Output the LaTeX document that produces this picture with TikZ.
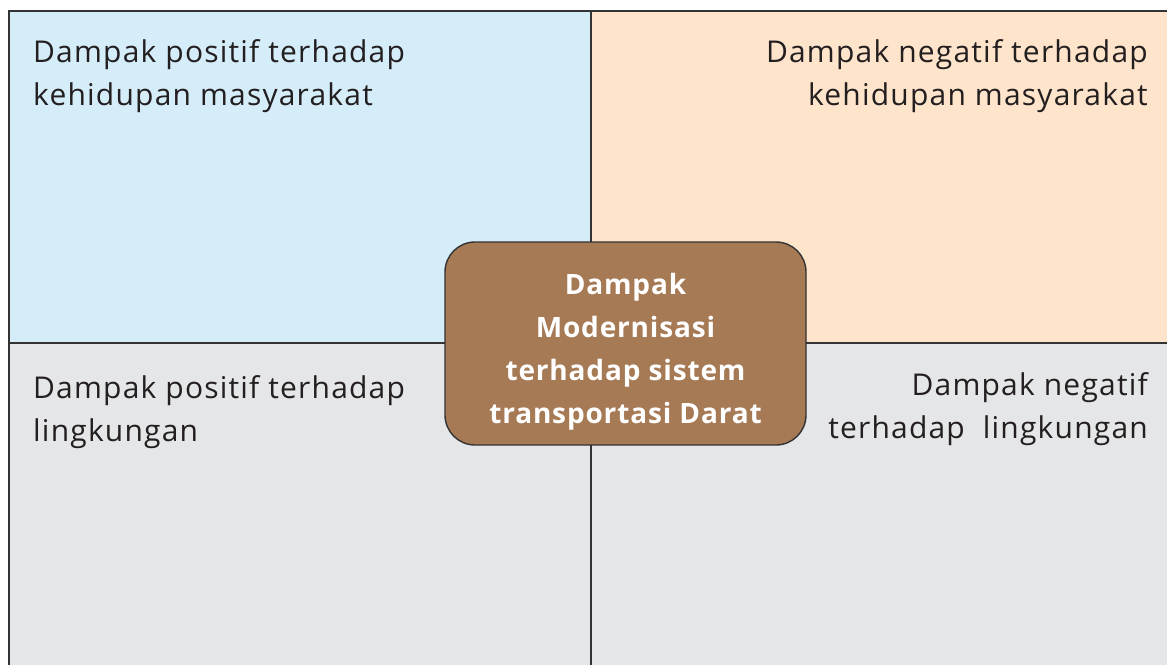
\documentclass[tikz,border=0pt]{standalone}
\usepackage{fontspec}
\setmainfont{Open Sans}
\definecolor{qblue}{HTML}{D5ECF9}
\definecolor{qpeach}{HTML}{FEE4CA}
\definecolor{qgray}{HTML}{E5E6E8}
\definecolor{qbrown}{HTML}{A67A55}
\definecolor{qline}{HTML}{333333}
\definecolor{qtext}{HTML}{231F20}
\tikzset{
  quadline/.style={draw=qline, line width=1.6pt},
  label/.style={inner sep=0pt, text=qtext, font=\fontsize{30}{43}\selectfont\addfontfeature{LetterSpace=4}},
  centerbox/.style={draw=qline, line width=1.4pt, fill=qbrown, rounded corners=30pt,
    minimum width=361pt, minimum height=203pt, inner sep=0pt},
  centertext/.style={inner sep=0pt, align=center,
    text=white, font=\fontsize{28}{43}\selectfont\bfseries\addfontfeature{LetterSpace=3}}
}
\begin{document}
\begin{tikzpicture}[x=1pt,y=-1pt]
\useasboundingbox (0,0) rectangle (1167,665);
% quadrant fills
\fill[qblue] (9,11) rectangle (591,343);
\fill[qpeach] (591,11) rectangle (1167,343);
\fill[qgray] (9,343) rectangle (1167,665);
% grid lines
\draw[quadline] (1167,11) -- (9,11) -- (9,665);
\draw[quadline] (591,11) -- (591,665);
\draw[quadline] (9,343) -- (1167,343);
% labels (base anchor = last line's baseline)
\node[label, anchor=base west, align=left] (pm) at (33,105) {Dampak positif terhadap\\kehidupan masyarakat};
\node[label, anchor=base east, align=right] (nm) at (1148,105) {Dampak negatif terhadap\\kehidupan masyarakat};
\node[label, anchor=base west, align=left] (pl) at (33,441) {Dampak positif terhadap\\lingkungan};
\node[label, anchor=base east, align=right] (nl) at (1148,438) {Dampak negatif\\terhadap\ \ lingkungan};
% centre box
\node[centerbox] (c) at (625.5,343.5) {};
\node[centertext, anchor=base] (ct) at (625.5,423) {Dampak\\Modernisasi\\terhadap sistem\\transportasi Darat};
\end{tikzpicture}
\end{document}
